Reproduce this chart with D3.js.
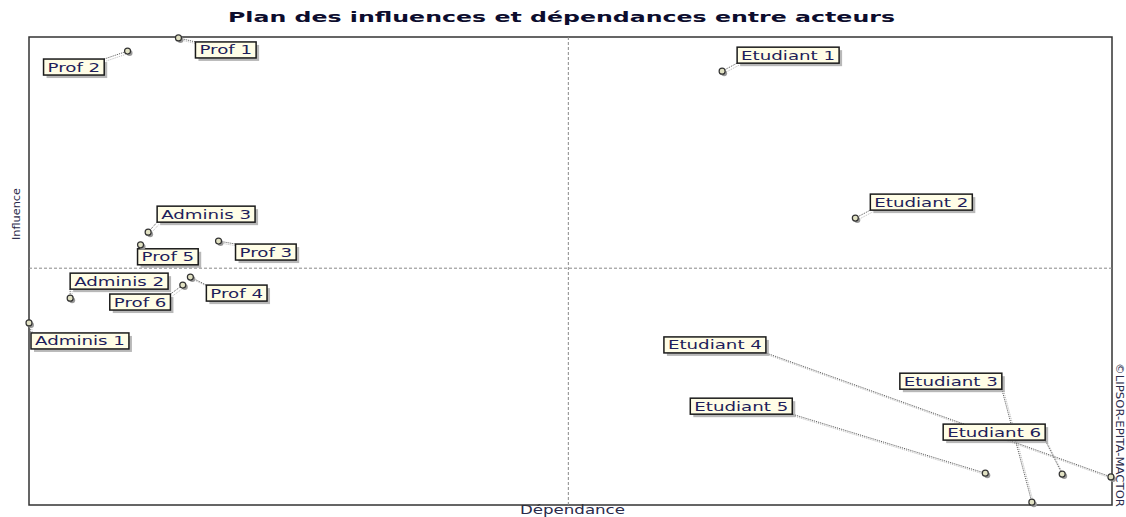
<!DOCTYPE html>
<html>
<head>
<meta charset="utf-8">
<script src="https://cdn.jsdelivr.net/npm/d3@7"></script>
<style>
  body { margin: 0; background: white; }
  #vis { width: 1126px; height: 517px; }
</style>
</head>
<body>
<div id="vis"></div>
<script>
// actors and their position in the plan (dependance = x, influence = y)
var actors = ['Prof 1', 'Prof 2', 'Etudiant 1', 'Etudiant 2', 'Adminis 3', 'Prof 5', 'Prof 3',
    'Adminis 2', 'Prof 6', 'Prof 4', 'Adminis 1', 'Etudiant 4', 'Etudiant 3', 'Etudiant 6', 'Etudiant 5'];
var dependance = [13.8, 9.1, 64.0, 76.3, 11.0, 10.3, 17.5, 3.8, 14.2, 14.9, 0.0, 99.9, 92.6, 95.4, 88.3];
var influence = [99.8, 97.0, 92.7, 61.3, 58.3, 55.6, 56.4, 44.2, 47.0, 48.7, 38.9, 6.0, 0.6, 6.6, 6.8];
var midDependance = 49.8;
var midInfluence = 50.6;

// where each label box sits relative to its point (layout only)
var labelOffset = {
    'Prof 1': [17, 4], 'Prof 2': [-84, 8], 'Etudiant 1': [15, -24], 'Etudiant 2': [15, -24],
    'Adminis 3': [9, -26], 'Prof 5': [-3, 4], 'Prof 3': [17, 3], 'Adminis 2': [0, -25],
    'Prof 6': [-73, 9], 'Prof 4': [16, 8], 'Adminis 1': [2, 10], 'Etudiant 4': [-447, -140],
    'Etudiant 3': [-132, -129], 'Etudiant 6': [-119, -50], 'Etudiant 5': [-295, -75]
};

var width = 1126, height = 517;
var margin = { top: 37, bottom: 12, left: 29, right: 14 };

var svg = d3.select('#vis')
    .append('svg')
    .attr('width', width)
    .attr('height', height)
    .style('font-family', '"DejaVu Sans", Verdana, sans-serif');

var x = d3.scaleLinear().domain([0, 100]).range([margin.left, width - margin.right]);
var y = d3.scaleLinear().domain([0, 100]).range([height - margin.bottom, margin.top]);

var data = actors.map(function(a, i) {
    return { name: a, dep: dependance[i], inf: influence[i] };
});

// title and axis labels
svg.append('text').text('Plan des influences et dépendances entre acteurs')
    .attr('x', 228).attr('y', 22)
    .attr('textLength', 667).attr('lengthAdjust', 'spacingAndGlyphs')
    .attr('font-size', 14).attr('font-weight', 'bold').attr('fill', '#0d0d2e');

svg.append('text').text('Dépendance')
    .attr('x', 520).attr('y', 514)
    .attr('textLength', 105).attr('lengthAdjust', 'spacingAndGlyphs')
    .attr('font-size', 12).attr('fill', '#2a2a4a');

svg.append('text').text('Influence')
    .attr('transform', 'translate(20,240)rotate(-90)')
    .attr('textLength', 52).attr('lengthAdjust', 'spacingAndGlyphs')
    .attr('font-size', 10).attr('fill', '#2a2a4a');

svg.append('text').text('©LIPSOR-EPITA-MACTOR')
    .attr('transform', 'translate(1116,363)rotate(90)')
    .attr('textLength', 144).attr('lengthAdjust', 'spacingAndGlyphs')
    .attr('font-size', 10).attr('fill', '#2a2a4a');

// frame
svg.append('rect')
    .attr('x', x(0)).attr('y', y(100))
    .attr('width', x(100) - x(0)).attr('height', y(0) - y(100))
    .attr('fill', 'none').attr('stroke', '#333').attr('stroke-width', 1.5);

// mean lines
svg.append('line')
    .attr('x1', x(midDependance)).attr('x2', x(midDependance))
    .attr('y1', y(100)).attr('y2', y(0))
    .attr('stroke', '#888').attr('stroke-dasharray', '3,2');
svg.append('line')
    .attr('x1', x(0)).attr('x2', x(100))
    .attr('y1', y(midInfluence)).attr('y2', y(midInfluence))
    .attr('stroke', '#888').attr('stroke-dasharray', '3,2');

var labels = svg.append('g');
var leaders = svg.insert('g', 'g');
var points = svg.append('g');

data.forEach(function(d) {
    var px = x(d.dep), py = y(d.inf);
    var off = labelOffset[d.name];
    var g = labels.append('g')
        .attr('transform', 'translate(' + (px + off[0]) + ',' + (py + off[1]) + ')');

    var shadow = g.append('rect').attr('fill', '#9a9a9a').attr('opacity', 0.7);
    var box = g.append('rect').attr('fill', '#fffde6').attr('stroke', '#1a1a1a').attr('stroke-width', 1.5);
    var txt = g.append('text').text(d.name)
        .attr('x', 4).attr('y', 12.5)
        .attr('font-size', 13).attr('fill', '#1e1e5a');
    var w = txt.node().getComputedTextLength() * 1.4;
    txt.attr('textLength', w).attr('lengthAdjust', 'spacingAndGlyphs');
    var bw = w + 8, bh = 16;
    box.attr('width', bw).attr('height', bh);
    shadow.attr('x', 3).attr('y', 3).attr('width', bw).attr('height', bh);

    // leader line to the nearest point of the box
    var bx = px + off[0], by = py + off[1];
    var lx = Math.max(bx, Math.min(px, bx + bw));
    var ly = Math.max(by, Math.min(py, by + bh));
    leaders.append('line')
        .attr('x1', px + 2).attr('y1', py + 2).attr('x2', lx + 2).attr('y2', ly + 2)
        .attr('stroke', '#bbb').attr('stroke-dasharray', '1,1');
    leaders.append('line')
        .attr('x1', px).attr('y1', py).attr('x2', lx).attr('y2', ly)
        .attr('stroke', '#555').attr('stroke-dasharray', '1,1');

    points.append('circle').attr('cx', px + 2).attr('cy', py + 2).attr('r', 3)
        .attr('fill', '#999');
    points.append('circle').attr('cx', px).attr('cy', py).attr('r', 3)
        .attr('fill', '#e2e2c4').attr('stroke', '#333').attr('stroke-width', 1.2);
});
</script>
</body>
</html>
